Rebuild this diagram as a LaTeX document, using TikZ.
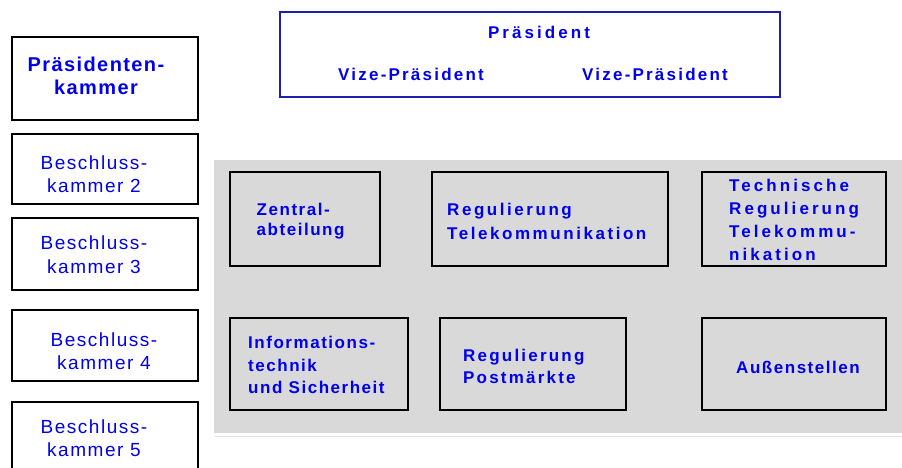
\documentclass[tikz,border=0pt]{standalone}
\usepackage{fontspec}
\setmainfont{Liberation Sans}
\newfontfamily\bsA[LetterSpace=9]{Liberation Sans}
\newfontfamily\bsB[LetterSpace=15]{Liberation Sans}
\newfontfamily\bsC[LetterSpace=18]{Liberation Sans}
\newfontfamily\bsD[LetterSpace=13]{Liberation Sans}
\newfontfamily\bsE[LetterSpace=7]{Liberation Sans}
\newfontfamily\rgA[LetterSpace=8]{Liberation Sans}
\definecolor{tblue}{RGB}{0,0,235}
\definecolor{pblue}{RGB}{30,30,170}
\definecolor{panel}{RGB}{217,217,217}
\definecolor{pline}{RGB}{228,228,228}
\begin{document}
\begin{tikzpicture}[x=1pt,y=-1pt,
  box/.style={draw=black, line width=1.6pt, inner sep=0pt},
  lbox/.style={box, fill=white, minimum width=186pt},
  txt/.style={text=tblue, inner sep=0pt, anchor=base west, align=left},
  ltxt/.style={text=tblue, font=\rgA\fontsize{19}{23.5}\selectfont, align=center, inner sep=0pt, anchor=base},
  lbtxt/.style={text=tblue, font=\bsE\bfseries\fontsize{20}{23}\selectfont, align=center, inner sep=0pt, anchor=base}]
\useasboundingbox (0,0) rectangle (902,468);
\fill[white] (0,0) rectangle (902,468);
% gray panel
\fill[panel] (214,160) rectangle (902,433);
\draw[pline, line width=1.5pt] (214,436.5) -- (902,436.5);
% president box
\node[draw=pblue, line width=1.8pt, minimum width=500pt, minimum height=85pt, inner sep=0pt] (pres) at (530,54.5) {};
\node[text=tblue, font=\bsC\bfseries\fontsize{17}{20}\selectfont, inner sep=0pt, anchor=base] (prest) at (539,38.5) {Präsident};
\node[text=tblue, font=\bsD\bfseries\fontsize{17}{20}\selectfont, inner sep=0pt, anchor=base] (vp1) at (411,81) {Vize-Präsident};
\node[text=tblue, font=\bsD\bfseries\fontsize{17}{20}\selectfont, inner sep=0pt, anchor=base] (vp2) at (655,81) {Vize-Präsident};
% left boxes (anchor base = last line)
\node[lbox, minimum height=83pt] (pk) at (105,78.5) {};
\node[lbtxt] (pkt) at (96,94.5) {Präsidenten-\\kammer};
\node[lbox, minimum height=70pt] (bk2) at (105,169) {};
\node[ltxt] (bk2t) at (94,192.5) {Beschluss-\\kammer 2};
\node[lbox, minimum height=72pt] (bk3) at (105,254) {};
\node[ltxt] (bk3t) at (94,273) {Beschluss-\\kammer 3};
\node[lbox, minimum height=71pt] (bk4) at (105,345.5) {};
\node[ltxt] (bk4t) at (104,369.5) {Beschluss-\\kammer 4};
\node[lbox, minimum height=80pt] (bk5) at (105,442) {};
\node[ltxt] (bk5t) at (94,456.5) {Beschluss-\\kammer 5};
% inner boxes
\node[box, minimum width=150pt, minimum height=94pt] (za) at (305,219) {};
\node[txt, font=\bsA\bfseries\fontsize{17}{20}\selectfont] (zat) at (256.5,235.5) {Zentral-\\abteilung};
\node[box, minimum width=236pt, minimum height=94pt] (rt) at (550,219) {};
\node[txt, font=\bsB\bfseries\fontsize{17}{24}\selectfont] (rtt) at (447,239.5) {Regulierung\\Telekommunikation};
\node[box, minimum width=184pt, minimum height=94pt] (tr) at (794,219) {};
\node[txt, font=\bsC\bfseries\fontsize{17}{23}\selectfont] (trt) at (729,260.5) {Technische\\Regulierung\\Telekommu-\\nikation};
\node[box, minimum width=178pt, minimum height=92pt] (it) at (319,364) {};
\node[txt, font=\bsA\bfseries\fontsize{17}{22.5}\selectfont] (itt) at (248,393.5) {Informations-\\technik\\und Sicherheit};
\node[box, minimum width=186pt, minimum height=92pt] (rp) at (533,364) {};
\node[txt, font=\bsD\bfseries\fontsize{17}{22}\selectfont] (rpt) at (463,383.5) {Regulierung\\Postmärkte};
\node[box, minimum width=184pt, minimum height=92pt] (as) at (794,364) {};
\node[txt, font=\bsA\bfseries\fontsize{17}{22}\selectfont, anchor=base] (ast) at (798,373.5) {Außenstellen};
\end{tikzpicture}
\end{document}
